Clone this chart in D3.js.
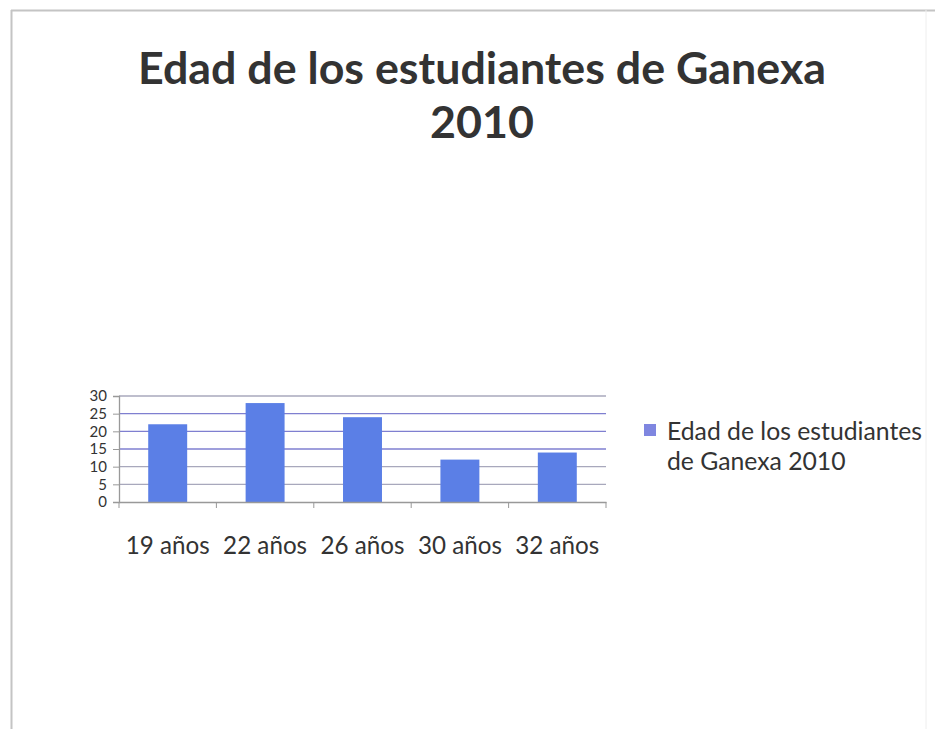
<!DOCTYPE html>
<html>
<head>
<meta charset="utf-8">
<script src="https://cdn.jsdelivr.net/npm/d3@7"></script>
<style>
  html, body { margin: 0; padding: 0; background: #fff; }
  svg { display: block; }
  text { font-family: Lato, "Open Sans", sans-serif; fill: #333; }
</style>
</head>
<body>
<svg id="chart" width="935" height="729"></svg>
<script>
const titleLines = ["Edad de los estudiantes de Ganexa", "2010"];
const categories = ["19 años", "22 años", "26 años", "30 años", "32 años"];
const values = [22, 28, 24, 12, 14];
const yTicks = [0, 5, 10, 15, 20, 25, 30];
const legendLines = ["Edad de los estudiantes", "de Ganexa 2010"];

const svg = d3.select("#chart");

function fit(sel, targetW) {
  const node = sel.node();
  const fs = parseFloat(sel.attr("font-size"));
  const w = node.getComputedTextLength();
  if (w > 0) sel.attr("font-size", (fs * targetW / w).toFixed(2));
  return sel;
}

// frame
svg.append("line").attr("x1", 11.5).attr("x2", 11.5).attr("y1", 10).attr("y2", 729)
  .attr("stroke", "#c4c4c4").attr("stroke-width", 2);
svg.append("line").attr("x1", 11).attr("x2", 935).attr("y1", 10.5).attr("y2", 10.5)
  .attr("stroke", "#c4c4c4").attr("stroke-width", 2);
svg.append("line").attr("x1", 926).attr("x2", 926).attr("y1", 10).attr("y2", 729)
  .attr("stroke", "#eeeeee").attr("stroke-width", 1);

// title
const t1 = svg.append("text").attr("x", 482).attr("y", 84).attr("text-anchor", "middle")
  .attr("font-size", 42).attr("font-weight", "bold").attr("fill", "#3a3a3a").text(titleLines[0]);
fit(t1, 688);
svg.append("text").attr("x", 482).attr("y", 138).attr("text-anchor", "middle")
  .attr("font-size", t1.attr("font-size")).attr("font-weight", "bold").attr("fill", "#3a3a3a").text(titleLines[1]);

// scales
const x = d3.scaleBand().domain(categories).range([119, 606]).paddingInner(0.6).paddingOuter(0.3);
const y = d3.scaleLinear().domain([0, 30]).range([502, 396]);

// gridlines
svg.append("g").selectAll("line").data(yTicks.filter(d => d > 0)).join("line")
  .attr("x1", 119).attr("x2", 606)
  .attr("y1", d => y(d)).attr("y2", d => y(d))
  .attr("stroke", d => (d >= 15 && d <= 25) ? "#7f7fd0" : "#a8a8bc")
  .attr("stroke-width", 1.3);

// bars
svg.append("g").selectAll("rect").data(values).join("rect")
  .attr("x", (d, i) => x(categories[i]))
  .attr("width", x.bandwidth())
  .attr("y", d => y(d))
  .attr("height", d => y(0) - y(d))
  .attr("fill", "#5b7fe6");

// y axis
const yAxis = svg.append("g").attr("transform", "translate(119,0)")
  .call(d3.axisLeft(y).tickValues(yTicks).tickSize(6).tickPadding(6).tickFormat(d3.format("d")));
yAxis.select(".domain").attr("stroke", "#999").attr("stroke-width", 1.3);
yAxis.selectAll(".tick line").attr("stroke", "#999");
yAxis.selectAll(".tick text").attr("font-size", 15).attr("fill", "#333")
  .attr("font-family", "Lato, 'Open Sans', sans-serif");

// x axis
const xAxis = svg.append("g").attr("transform", "translate(0,502)")
  .call(d3.axisBottom(x).tickSize(0).tickPadding(35));
xAxis.select(".domain").attr("stroke", "#999").attr("stroke-width", 1.3);
xAxis.selectAll(".tick text").attr("font-size", 26).attr("fill", "#333")
  .attr("font-family", "Lato, 'Open Sans', sans-serif")
  .each(function () { fit(d3.select(this), 84); });
const bounds = categories.map(c => x(c) - x.step() * x.paddingInner() / 2);
bounds.push(606);
bounds[0] = 119;
xAxis.append("g").selectAll("line").data(bounds).join("line")
  .attr("x1", d => d).attr("x2", d => d).attr("y1", 0).attr("y2", 6)
  .attr("stroke", "#999").attr("stroke-width", 1);

// legend
svg.append("rect").attr("x", 644).attr("y", 424).attr("width", 12).attr("height", 12)
  .attr("fill", "#7f86e0");
let legendFs = null;
legendLines.forEach((l, i) => {
  const t = svg.append("text").attr("x", 667).attr("y", 440 + i * 30)
    .attr("font-size", legendFs || 26).attr("fill", "#333").text(l);
  if (i === 0) { fit(t, 255); legendFs = t.attr("font-size"); }
});
</script>
</body>
</html>
